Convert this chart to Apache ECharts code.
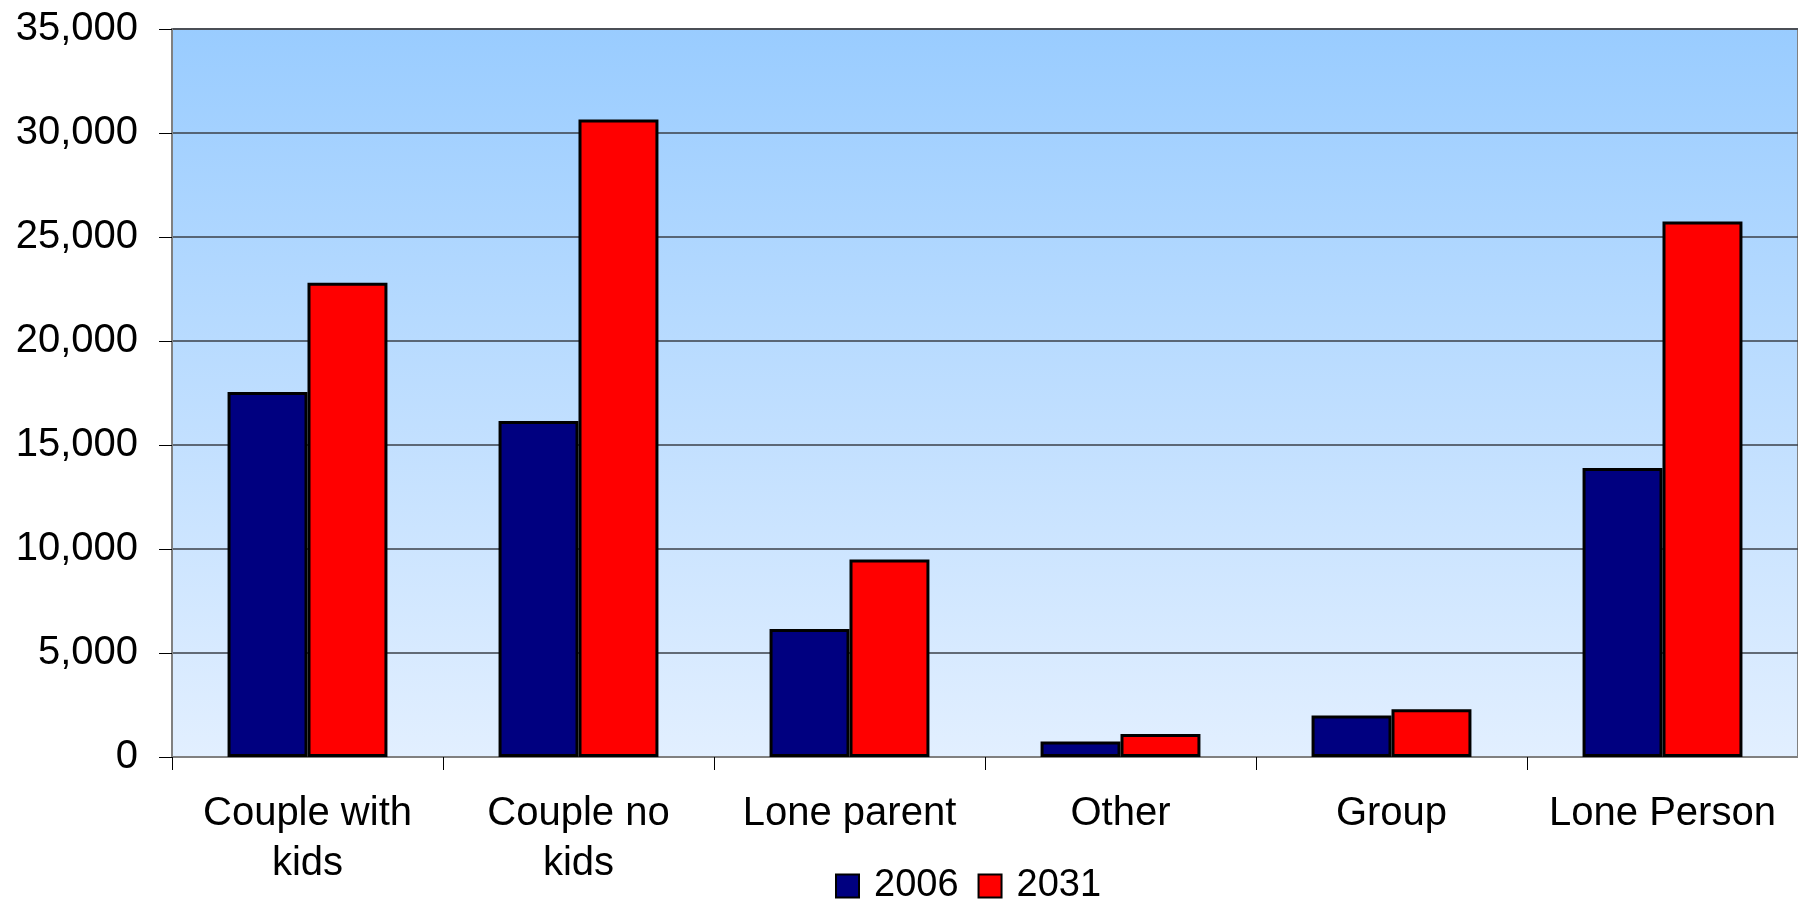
<!DOCTYPE html>
<html>
<head>
<meta charset="utf-8">
<script src="https://cdn.jsdelivr.net/npm/echarts@6/dist/echarts.min.js"></script>
<style>
html,body{margin:0;padding:0;background:#fff;}
#chart{width:1798px;height:899px;}
</style>
</head>
<body>
<div id="chart"></div>
<script>
const categories = ['Couple with\nkids', 'Couple no\nkids', 'Lone parent', 'Other', 'Group', 'Lone Person'];
const seriesNames = ['2006', '2031'];
const values2006 = [17550, 16150, 6150, 750, 2000, 13900];
const values2031 = [22800, 30650, 9500, 1100, 2300, 25750];
const yTicks = { min: 0, max: 35000, interval: 5000 };

const chart = echarts.init(document.getElementById('chart'), null, { renderer: 'canvas' });
const font = 'Liberation Sans, Arial, sans-serif';

chart.setOption({
  animation: false,
  backgroundColor: '#ffffff',
  textStyle: { fontFamily: font },
  grid: {
    left: 172, top: 29, right: -10, bottom: 142,
    show: true,
    borderColor: '#808080',
    borderWidth: 2,
    backgroundColor: {
      type: 'linear', x: 0, y: 0, x2: 0, y2: 1,
      colorStops: [
        { offset: 0, color: '#99CCFF' },
        { offset: 1, color: '#E2EFFF' }
      ]
    }
  },
  legend: {
    left: 830, top: 862,
    itemWidth: 23, itemHeight: 23, itemGap: 19,
    icon: 'rect',
    itemStyle: { borderColor: '#000', borderWidth: 2 },
    textStyle: { fontSize: 38, color: '#000', fontFamily: font, padding: [0, 0, 0, 10] },
    data: seriesNames
  },
  xAxis: {
    type: 'category',
    data: categories,
    axisLine: { lineStyle: { color: '#808080', width: 2 } },
    axisTick: { show: true, alignWithLabel: false, length: 13, lineStyle: { color: '#000', width: 1 } },
    axisLabel: { interval: 0, fontSize: 40, lineHeight: 50, color: '#000', margin: 32, fontFamily: font },
    splitLine: { show: false }
  },
  yAxis: {
    type: 'value',
    min: yTicks.min, max: yTicks.max, interval: yTicks.interval,
    axisLine: { show: true, lineStyle: { color: '#808080', width: 2 } },
    axisTick: { show: true, length: 13, lineStyle: { color: '#000', width: 1 } },
    axisLabel: {
      fontSize: 40, color: '#000', margin: 34, fontFamily: font,
      formatter: v => v.toLocaleString('en-US')
    },
    splitLine: { show: true, lineStyle: { color: '#3a3f48', width: 1.5 } }
  },
  series: [
    {
      name: seriesNames[0], type: 'bar', data: values2006,
      barGap: '0%', barCategoryGap: '41%',
      itemStyle: { color: '#000080', borderColor: '#000', borderWidth: 3 }
    },
    {
      name: seriesNames[1], type: 'bar', data: values2031,
      barGap: '0%', barCategoryGap: '41%',
      itemStyle: { color: '#FF0000', borderColor: '#000', borderWidth: 3 }
    }
  ]
});
</script>
</body>
</html>
